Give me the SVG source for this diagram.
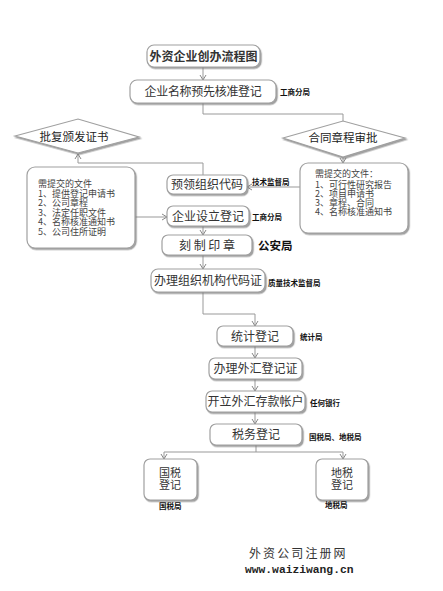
<svg xmlns="http://www.w3.org/2000/svg" width="443" height="591" viewBox="0 0 443 591">
<defs>
<filter id="sh" x="-10%" y="-10%" width="130%" height="140%"><feDropShadow dx="1.2" dy="1.5" stdDeviation="0.7" flood-color="#777" flood-opacity="0.7"/></filter>
<marker id="ar" markerWidth="8" markerHeight="8" refX="6" refY="4" orient="auto" markerUnits="userSpaceOnUse"><path d="M1,1 L6,4 L1,7" fill="none" stroke="#888" stroke-width="1"/></marker>
</defs>
<style>
.bx{fill:#fff;stroke:#a0a0a0;stroke-width:1.2;filter:url(#sh)}
.t{font-family:"Noto Sans CJK SC","Noto Sans",sans-serif;font-size:12px;fill:#333;text-anchor:middle}
.t2{font-family:"Noto Sans CJK SC","Noto Sans",sans-serif;font-size:11px;fill:#333;text-anchor:middle}
.d{font-family:"Noto Sans CJK SC",serif;font-size:11.5px;fill:#222;text-anchor:middle}
.lb{font-family:"Noto Sans CJK SC",sans-serif;font-size:7.5px;font-weight:bold;fill:#111}
.big{font-family:"Noto Sans CJK SC",sans-serif;font-size:11.5px;font-weight:bold;fill:#111}
.doc{font-family:"Noto Sans CJK SC",sans-serif;font-size:9px;fill:#444}
.c{fill:none;stroke:#999;stroke-width:1}
</style>
<rect width="443" height="591" fill="#fff"/>
<g id="connectors">
<path class="c" d="M203,67 V80" marker-end="url(#ar)"/>
<path class="c" d="M203,103 V114 H343 V121"/>
<path class="c" d="M343,157 V163" marker-end="url(#ar)"/>
<path class="c" d="M300,187 H247" marker-end="url(#ar)"/>
<path class="c" d="M203,175 V163 H78 V154" marker-end="url(#ar)"/>
<path class="c" d="M135,217 H167" marker-end="url(#ar)"/>
<path class="c" d="M203,226 V235" marker-end="url(#ar)"/>
<path class="c" d="M203,255 V269" marker-end="url(#ar)"/>
<path class="c" d="M203,292 V314 H255 V326" marker-end="url(#ar)"/>
<path class="c" d="M255,346 V358" marker-end="url(#ar)"/>
<path class="c" d="M255,379 V391" marker-end="url(#ar)"/>
<path class="c" d="M255,412 V424" marker-end="url(#ar)"/>
<path class="c" d="M256,445 V452"/>
<path class="c" d="M256,452 H164 V459" marker-end="url(#ar)"/>
<path class="c" d="M256,452 H343 V459" marker-end="url(#ar)"/>
</g>
<g id="title"><rect class="bx" x="147" y="45" width="113" height="22" rx="7"/><text class="t" x="203.5" y="60.5" font-weight="bold">外资企业创办流程图</text></g>
<g id="name"><rect class="bx" x="130" y="80" width="146" height="23" rx="7"/><text class="t" x="203" y="96" letter-spacing="-0.3">企业名称预先核准登记</text><text class="lb" x="280" y="95">工商分局</text></g>
<g id="approve"><polygon class="bx" points="15,136 78,119 139,137 78,153"/><text class="d" x="74" y="141">批复颁发证书</text></g>
<g id="contract"><polygon class="bx" points="283,138 343,121 405,138 343,157"/><text class="d" x="343" y="142">合同章程审批</text></g>
<g id="docsR"><rect class="bx" x="300" y="163" width="108" height="70" rx="8"/>
<text class="doc" x="315" y="177"><tspan x="315" y="177">需提交的文件：</tspan><tspan x="315" y="187.5">1、可行性研究报告</tspan><tspan x="315" y="196.8">2、项目申请书</tspan><tspan x="315" y="206.1">3、章程、合同</tspan><tspan x="315" y="215.4">4、名称核准通知书</tspan></text></g>
<g id="docsL"><rect class="bx" x="27" y="167" width="108" height="81" rx="8"/>
<text class="doc" x="38" y="187"><tspan x="38" y="187">需提交的文件</tspan><tspan x="38" y="196.5">1、提供登记申请书</tspan><tspan x="38" y="206">2、公司章程</tspan><tspan x="38" y="215.5">3、法定任职文件</tspan><tspan x="38" y="225">4、名称核准通知书</tspan><tspan x="38" y="234.5">5、公司住所证明</tspan></text></g>
<g id="precode"><rect class="bx" x="167" y="175" width="80" height="19" rx="6"/><text class="t" x="207" y="189">预领组织代码</text><text class="lb" x="252" y="184.5">技术监督局</text></g>
<g id="setup"><rect class="bx" x="167" y="206" width="82" height="20" rx="6"/><text class="t" x="208" y="221">企业设立登记</text><text class="lb" x="252" y="220">工商分局</text></g>
<g id="seal"><rect class="bx" x="162" y="235" width="90" height="20" rx="6"/><text class="t" x="207" y="250">刻 制 印 章</text><text class="big" x="258" y="250">公安局</text></g>
<g id="orgcode"><rect class="bx" x="151" y="269" width="114" height="23" rx="7"/><text class="t" x="208" y="285">办理组织机构代码证</text><text class="lb" x="268" y="286">质量技术监督局</text></g>
<g id="stat"><rect class="bx" x="217" y="326" width="76" height="20" rx="6"/><text class="t" x="255" y="341">统计登记</text><text class="lb" x="300" y="340">统计局</text></g>
<g id="forex"><rect class="bx" x="209" y="358" width="93" height="21" rx="6"/><text class="t" x="255.5" y="373">办理外汇登记证</text></g>
<g id="account"><rect class="bx" x="206" y="391" width="99" height="21" rx="6"/><text class="t" x="255.5" y="406">开立外汇存款帐户</text><text class="lb" x="310" y="406">任何银行</text></g>
<g id="tax"><rect class="bx" x="210" y="424" width="92" height="21" rx="6"/><text class="t" x="256" y="439">税务登记</text><text class="lb" x="309" y="440">国税局、地税局</text></g>
<g id="ntax"><rect class="bx" x="144" y="459" width="53" height="41" rx="6"/><text class="t2" x="170" y="477"><tspan x="170" y="477">国税</tspan><tspan x="170" y="489">登记</tspan></text><text class="lb" x="159" y="509">国税局</text></g>
<g id="ltax"><rect class="bx" x="316" y="459" width="52" height="41" rx="6"/><text class="t2" x="342" y="477"><tspan x="342" y="477">地税</tspan><tspan x="342" y="489">登记</tspan></text><text class="lb" x="325" y="508">地税局</text></g>
<g id="footer"><text x="249" y="558" font-family="Noto Sans CJK SC,sans-serif" font-size="12px" letter-spacing="2.1" fill="#333">外资公司注册网</text>
<text x="245" y="573" font-family="Liberation Mono,monospace" font-size="11.3px" font-weight="bold" fill="#222">www.waiziwang.cn</text></g>
</svg>
